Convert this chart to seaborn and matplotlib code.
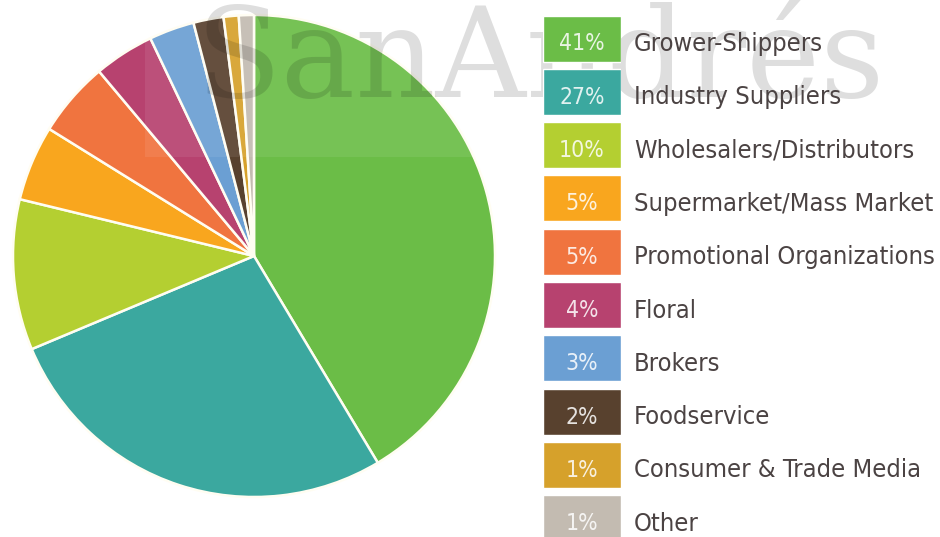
import matplotlib
matplotlib.use("Agg")
import matplotlib.pyplot as plt
import seaborn as sns
from matplotlib.patches import Rectangle

# Exhibitor mix by category
categories = [
    "Grower-Shippers",
    "Industry Suppliers",
    "Wholesalers/Distributors",
    "Supermarket/Mass Market",
    "Promotional Organizations",
    "Floral",
    "Brokers",
    "Foodservice",
    "Consumer & Trade Media",
    "Other",
]
shares = [41, 27, 10, 5, 5, 4, 3, 2, 1, 1]
colors = [
    "#6bbd47", "#3ba89f", "#b4cf31", "#f9a61e", "#f0743f",
    "#b7426f", "#6b9fd3", "#58412e", "#d6a12b", "#c3bbb1",
]

sns.set_theme(style="white")
label_font = ["DejaVu Sans"]
plt.rcParams["font.family"] = label_font

W, H = 940, 537
fig = plt.figure(figsize=(W / 100, H / 100), dpi=100)
fig.patch.set_facecolor("white")

# Full-figure axes in pixel units (y measured upward)
ax = fig.add_axes([0, 0, 1, 1])
ax.pie(
    shares,
    colors=colors,
    startangle=90,
    counterclock=False,
    center=(254, H - 256),
    radius=241,
    wedgeprops=dict(edgecolor="#fffdf2", linewidth=1.8),
)
ax.set_xlim(0, W)
ax.set_ylim(0, H)
ax.set_aspect("equal")
ax.axis("off")

# Legend swatches drawn as equal-length horizontal bars
pitch = 53.3
first_center = 38.5
top_px = first_center - pitch / 2
bottom_px = top_px + pitch * len(categories)
left_px, right_px = 543, 621
ax_leg = fig.add_axes([
    left_px / W,
    (H - bottom_px) / H,
    (right_px - left_px) / W,
    (bottom_px - top_px) / H,
])
sns.barplot(
    x=[1] * len(categories),
    y=categories,
    hue=categories,
    palette=colors,
    orient="h",
    width=46 / pitch,
    saturation=1,
    legend=False,
    ax=ax_leg,
)
ax_leg.set_xlim(0, 1)
ax_leg.set_ylim(len(categories) - 0.5, -0.5)
ax_leg.axis("off")

label_x = 1 + (634 - right_px) / (right_px - left_px)
for i, (name, v) in enumerate(zip(categories, shares)):
    ax_leg.text(0.5, i + 12 / pitch, f"{v}%", ha="center", va="baseline",
                fontsize=16.5, color="white", alpha=0.85, family=label_font,
                fontstretch="condensed")
    ax_leg.text(label_x, i + 12.5 / pitch, name, ha="left", va="baseline",
                fontsize=18.3, color="#4b4343", family=label_font,
                fontstretch="condensed", clip_on=False)

# Watermark band and text across the top
ax.add_patch(Rectangle((145, H - 157), 382, 157, facecolor="white",
                       alpha=0.08, edgecolor="none", zorder=5))
ax.text(196, H - 97, "SanAndrés", family="DejaVu Serif", fontsize=90,
        color="black", alpha=0.13, ha="left", va="baseline", zorder=6)

fig.savefig("out.png", dpi=100)
